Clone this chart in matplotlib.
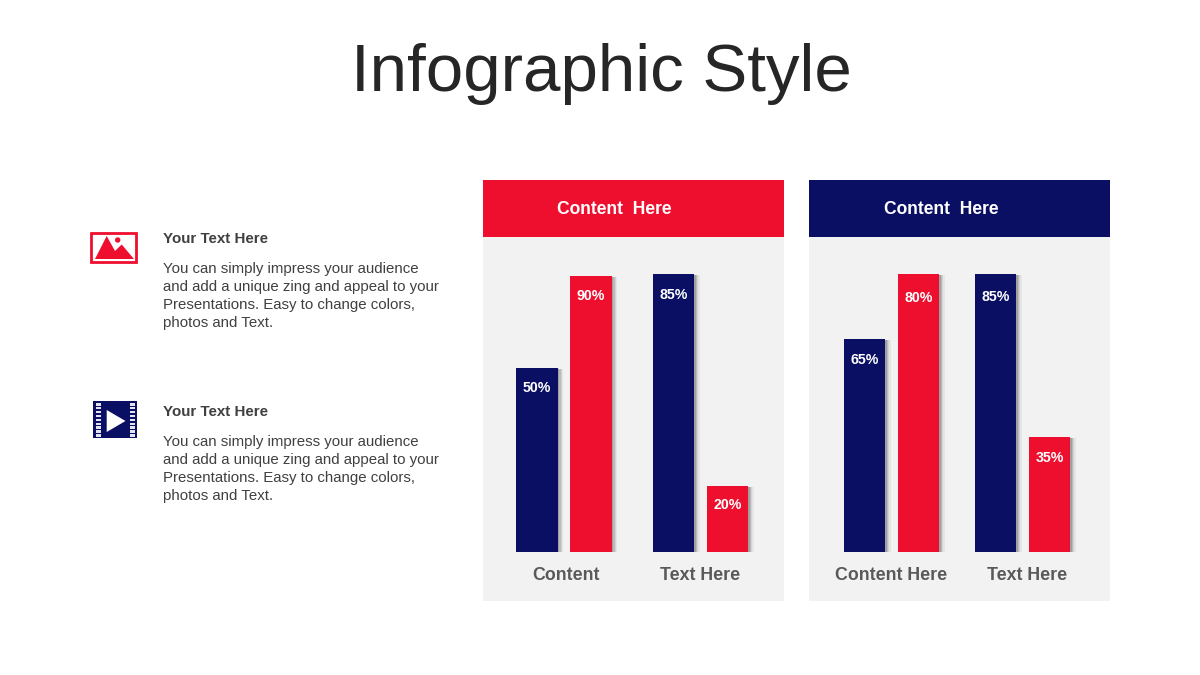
import matplotlib
matplotlib.use("Agg")
import matplotlib.pyplot as plt
import matplotlib.patheffects as pe
from matplotlib.patches import Rectangle, Polygon, Circle

plt.rcParams['font.family'] = ['Liberation Sans', 'DejaVu Sans']

NAVY = "#0a0f64"
RED = "#ee0f2f"
PANEL = "#f2f2f2"

# bar heights (the labels do not scale with them)
left_groups = ["Content", "Text Here"]
left_navy = [184, 278]
left_red = [276, 66]
left_navy_labels = ["50%", "85%"]
left_red_labels = ["90%", "20%"]

right_groups = ["Content Here", "Text Here"]
right_navy = [213, 278]
right_red = [278, 115]
right_navy_labels = ["65%", "85%"]
right_red_labels = ["80%", "35%"]

body = ("You can simply impress your audience\n"
        "and add a unique zing and appeal to your\n"
        "Presentations. Easy to change colors,\n"
        "photos and Text.")

W, H = 1200, 675
fig = plt.figure(figsize=(12, 6.75), dpi=100, facecolor="white")

# overlay in pixel coords for the slide furniture
bg = fig.add_axes([0, 0, 1, 1], zorder=0)
bg.set_xlim(0, W)
bg.set_ylim(H, 0)
bg.axis("off")

bg.text(601.5, 91, "Infographic Style", fontsize=48.4, color="#262626", ha="center", va="baseline")

# panels and their headers
for x0, x1, col, tx in [(483, 784, RED, 614.5), (809, 1109.5, NAVY, 941.5)]:
    bg.add_patch(Rectangle((x0, 237), x1 - x0, 364, fc=PANEL, ec="none"))
    bg.add_patch(Rectangle((x0, 180), x1 - x0, 57, fc=col, ec="none"))
    bg.text(tx, 214.5, "Content  Here", color="white", fontsize=12.65, fontweight="bold", ha="center", va="baseline")

# left column text
for y in [237, 410]:
    bg.text(163, y + 6, "Your Text Here", color="#404040", fontsize=10.9, fontweight="bold", va="baseline")
    bg.text(163, y + 25, body, color="#404040", fontsize=10.77, va="top", linespacing=1.37)

# picture icon
bg.add_patch(Rectangle((91, 232.5), 45, 29, fc="white", ec=RED, lw=2))
bg.add_patch(Polygon([[95, 259], [106.7, 236], [115, 251], [121.7, 244.5], [134, 259]], fc=RED, ec="none"))
bg.add_patch(Circle((117.7, 240), 2.7, fc=RED, ec="none"))

# film icon
bg.add_patch(Rectangle((93, 401), 43.5, 37, fc=NAVY, ec="none"))
for i in range(9):
    yy = 403 + i * 3.9
    bg.add_patch(Rectangle((96, yy), 4.8, 2.5, fc="#e4e4ee", ec="none"))
    bg.add_patch(Rectangle((130, yy), 4.5, 2.5, fc="#e4e4ee", ec="none"))
bg.add_patch(Polygon([[106.7, 410], [125.5, 421], [106.7, 432]], fc="white", ec="none"))

# soft shadow to the right of each bar
shadow = [pe.withSimplePatchShadow(offset=(k, -0.5), shadow_rgbFace="k", alpha=a)
          for k, a in [(4, 0.05), (3, 0.08), (2, 0.11), (1, 0.14)]]


def draw_panel(x0, x1, c0, spacing, gap, groups, label_x, navy, red, navy_lab, red_lab, lab_off):
    ax = fig.add_axes([x0 / W, 1 - 552 / H, (x1 - x0) / W, (552 - 237) / H], zorder=1)
    ax.set_facecolor("none")
    ax.set_xlim(x0, x1)
    ax.set_ylim(0, 315)
    for s in ax.spines.values():
        s.set_visible(False)
    ax.set_yticks([])
    centers = [c0 + i * spacing for i in range(len(groups))]
    xn = [c - gap / 2 for c in centers]
    xr = [c + gap / 2 for c in centers]
    bn = ax.bar(xn, navy, width=41.5, color=NAVY)
    br = ax.bar(xr, red, width=41.5, color=RED)
    for b in list(bn) + list(br):
        b.set_path_effects(shadow + [pe.Normal()])
    for xs, hs, labs, offs in [(xn, navy, navy_lab, lab_off[0]), (xr, red, red_lab, lab_off[1])]:
        for x, h, l, o in zip(xs, hs, labs, offs):
            ax.text(x, h - o, l, color="white", fontsize=10.2, fontweight="bold", ha="center", va="center")
    ax.set_xticks(label_x)
    ax.set_xticklabels(groups, fontsize=12.8, fontweight="bold", color="#595959")
    ax.tick_params(axis="x", length=0, pad=11)


draw_panel(483, 784, 564, 136.5, 54, left_groups, [566, 700], left_navy, left_red,
           left_navy_labels, left_red_labels, ([20, 21], [20, 19]))
draw_panel(809, 1109.5, 891.5, 131, 54, right_groups, [891, 1027], right_navy, right_red,
           right_navy_labels, right_red_labels, ([21, 23], [24, 21]))

fig.savefig("out.png", dpi=100)
